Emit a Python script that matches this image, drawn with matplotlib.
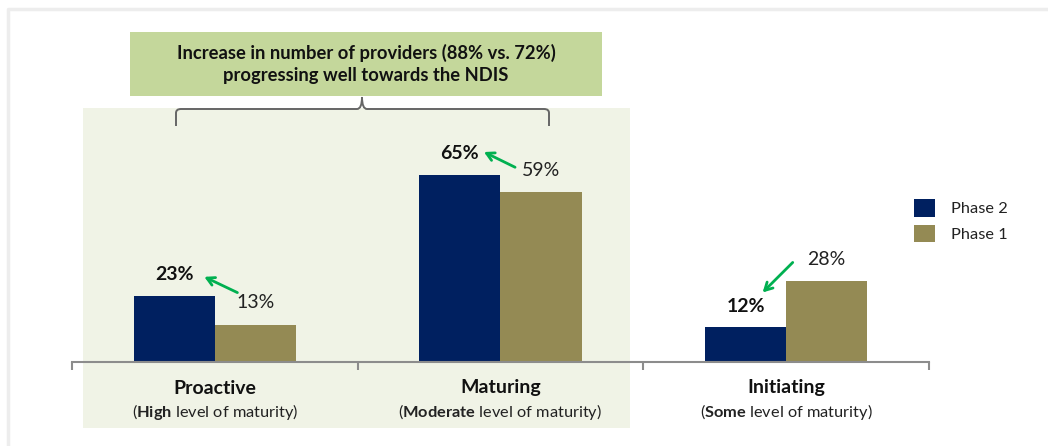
import matplotlib.pyplot as plt
from matplotlib.patches import Rectangle, PathPatch
from matplotlib.path import Path
from matplotlib.lines import Line2D
from matplotlib.transforms import offset_copy

plt.rcParams['font.family'] = ['Lato', 'DejaVu Sans']
plt.rcParams['mathtext.fontset'] = 'custom'
plt.rcParams['mathtext.rm'] = 'Lato'
plt.rcParams['mathtext.bf'] = 'Lato:bold'

categories = ["Proactive", "Maturing", "Initiating"]
subtitles = [r"($\mathbf{High}$ level of maturity)",
             r"($\mathbf{Moderate}$ level of maturity)",
             r"($\mathbf{Some}$ level of maturity)"]
phase2 = [23, 65, 12]
phase1 = [13, 59, 28]
callout = "Increase in number of providers (88% vs. 72%)\nprogressing well towards the NDIS"

navy = "#002060"
olive = "#948A54"
arrow_green = "#00B050"

W, H = 1048, 446


def fx(x):
    return x / W


def fy(y):
    return 1 - y / H


fig = plt.figure(figsize=(W / 100, H / 100), dpi=100)
fig.patch.set_facecolor("white")

# light frame at top/left
fig.add_artist(Line2D([fx(8), fx(8), 1], [0, fy(9), fy(9)], color="#EDEDED", lw=2.5, zorder=-5))

# shaded area behind the first two groups
fig.add_artist(Rectangle((fx(83), fy(428)), fx(630) - fx(83), fy(108) - fy(428),
                         transform=fig.transFigure, facecolor="#F0F3E6", edgecolor="none", zorder=-3))
# callout box
fig.add_artist(Rectangle((fx(130), fy(96)), fx(602) - fx(130), fy(32) - fy(96),
                         transform=fig.transFigure, facecolor="#C4D79B", edgecolor="none", zorder=-2))
fig.text(fx(366), fy(64), callout, ha="center", va="center", fontsize=13.2,
         fontweight="bold", color="#111111", linespacing=1.35)

# curly brace
pts = [(176, 126), (176, 113), (176, 109), (181, 109), (357, 109), (362, 109), (362, 97),
       (362, 109), (367, 109), (544, 109), (549, 109), (549, 113), (549, 126)]
codes = [Path.MOVETO, Path.LINETO, Path.CURVE3, Path.CURVE3, Path.LINETO, Path.CURVE3, Path.CURVE3,
         Path.CURVE3, Path.CURVE3, Path.LINETO, Path.CURVE3, Path.CURVE3, Path.LINETO]
brace = Path([(fx(x), fy(y)) for x, y in pts], codes)
fig.add_artist(PathPatch(brace, transform=fig.transFigure, facecolor="none",
                         edgecolor="#666666", lw=1.4, zorder=-1))

ax = fig.add_axes([fx(72), fy(362), fx(929) - fx(72), fy(30) - fy(362)])
ax.patch.set_alpha(0)

x = list(range(len(categories)))
bw = 0.284
b2 = ax.bar([i - bw / 2 for i in x], phase2, width=bw, color=navy, label="Phase 2")
b1 = ax.bar([i + bw / 2 for i in x], phase1, width=bw, color=olive, label="Phase 1")

ax.set_xlim(-0.5, len(categories) - 0.5)
ax.set_ylim(0, 115.4)
for s in ["left", "top", "right"]:
    ax.spines[s].set_visible(False)
ax.spines["bottom"].set_color("#8C8C8C")
ax.spines["bottom"].set_linewidth(1.5)
ax.set_yticks([])
ax.set_xticks([i - 0.5 for i in range(len(categories) + 1)])
ax.set_xticklabels([])
ax.tick_params(axis="x", direction="out", length=6, width=1.5, color="#8C8C8C")

# category labels
for i, (c, s) in enumerate(zip(categories, subtitles)):
    ax.annotate(c, (i, 0), xytext=(0, -26), textcoords="offset pixels", ha="center", va="center",
                fontsize=14, fontweight="bold", color="#111111", annotation_clip=False)
    ax.annotate(s, (i, 0), xytext=(0, -50), textcoords="offset pixels", ha="center", va="center",
                fontsize=11.8, color="#222222", annotation_clip=False)

# value labels
for i in x:
    ax.annotate(f"{phase2[i]}%", (i - bw / 2, phase2[i]), xytext=(0, 21), textcoords="offset pixels",
                ha="center", va="center", fontsize=14, fontweight="bold", color="#111111")
    ax.annotate(f"{phase1[i]}%", (i + bw / 2, phase1[i]), xytext=(0, 22), textcoords="offset pixels",
                ha="center", va="center", fontsize=14, color="#222222")

# green arrows from phase 1 label to phase 2 label
head_off = [(30, 19), (24, 23), (17, 35)]
tail_off = [(-18, 32), (-26, 25), (-34, 19)]
for i in x:
    head_tr = offset_copy(ax.transData, fig=fig, x=head_off[i][0], y=head_off[i][1], units="dots")
    tail_tr = offset_copy(ax.transData, fig=fig, x=tail_off[i][0], y=tail_off[i][1], units="dots")
    ax.annotate("", xy=(i - bw / 2, phase2[i]), xycoords=head_tr,
                xytext=(i + bw / 2, phase1[i]), textcoords=tail_tr,
                arrowprops=dict(arrowstyle="->,head_length=0.55,head_width=0.3", color=arrow_green,
                                lw=2, shrinkA=0, shrinkB=0))

fig.legend(handles=[b2, b1], labels=["Phase 2", "Phase 1"], loc="upper left",
           bbox_to_anchor=(fx(906), fy(191)), frameon=False, fontsize=11.8,
           handlelength=1.25, handleheight=1.25, handletextpad=1.0, labelspacing=0.5,
           borderpad=0, labelcolor="#222222")

fig.savefig("out.png", dpi=100)
